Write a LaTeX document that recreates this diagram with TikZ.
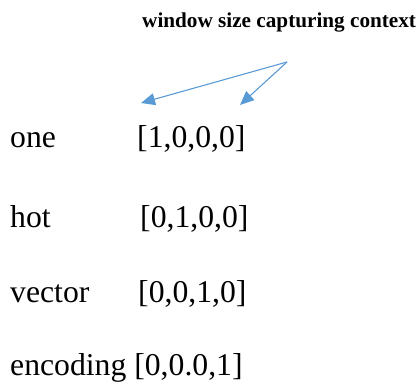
\documentclass[tikz,border=0pt]{standalone}
\usepackage{fontspec}
\setmainfont{Liberation Serif}
\usetikzlibrary{arrows.meta}
\definecolor{arrowblue}{HTML}{5B9BD5}
\begin{document}
\begin{tikzpicture}[x=1pt,y=-1pt,
  word/.style={anchor=base west,inner sep=0pt,font=\fontsize{31.7}{36}\selectfont},
  title/.style={anchor=base west,inner sep=0pt,font=\fontsize{21.2}{25}\selectfont\bfseries},
  pointer/.style={draw=arrowblue,line width=1.1pt,-{Triangle[length=14pt,width=12pt]}}]
  \useasboundingbox (0,0) rectangle (419,382);
  % heading
  \node[title] (head) at (142,28) {window size capturing context};
  % pointers from the heading down to the words
  \coordinate (src) at (287,62);
  \coordinate (tipA) at (141,103);
  \coordinate (tipB) at (240,105);
  \draw[pointer] (src) -- (tipA);
  \draw[pointer] (src) -- (tipB);
  % words and their one-hot vectors
  \node[word] (w1) at (10,147) {one};
  \node[word] (v1) at (137,147) {[1,0,0,0]};
  \node[word] (w2) at (10,227) {hot};
  \node[word] (v2) at (140,227) {[0,1,0,0]};
  \node[word] (w3) at (10,302) {vector};
  \node[word] (v3) at (138,302) {[0,0,1,0]};
  \node[word] (w4) at (10,375) {encoding [0,0.0,1]};
\end{tikzpicture}
\end{document}
